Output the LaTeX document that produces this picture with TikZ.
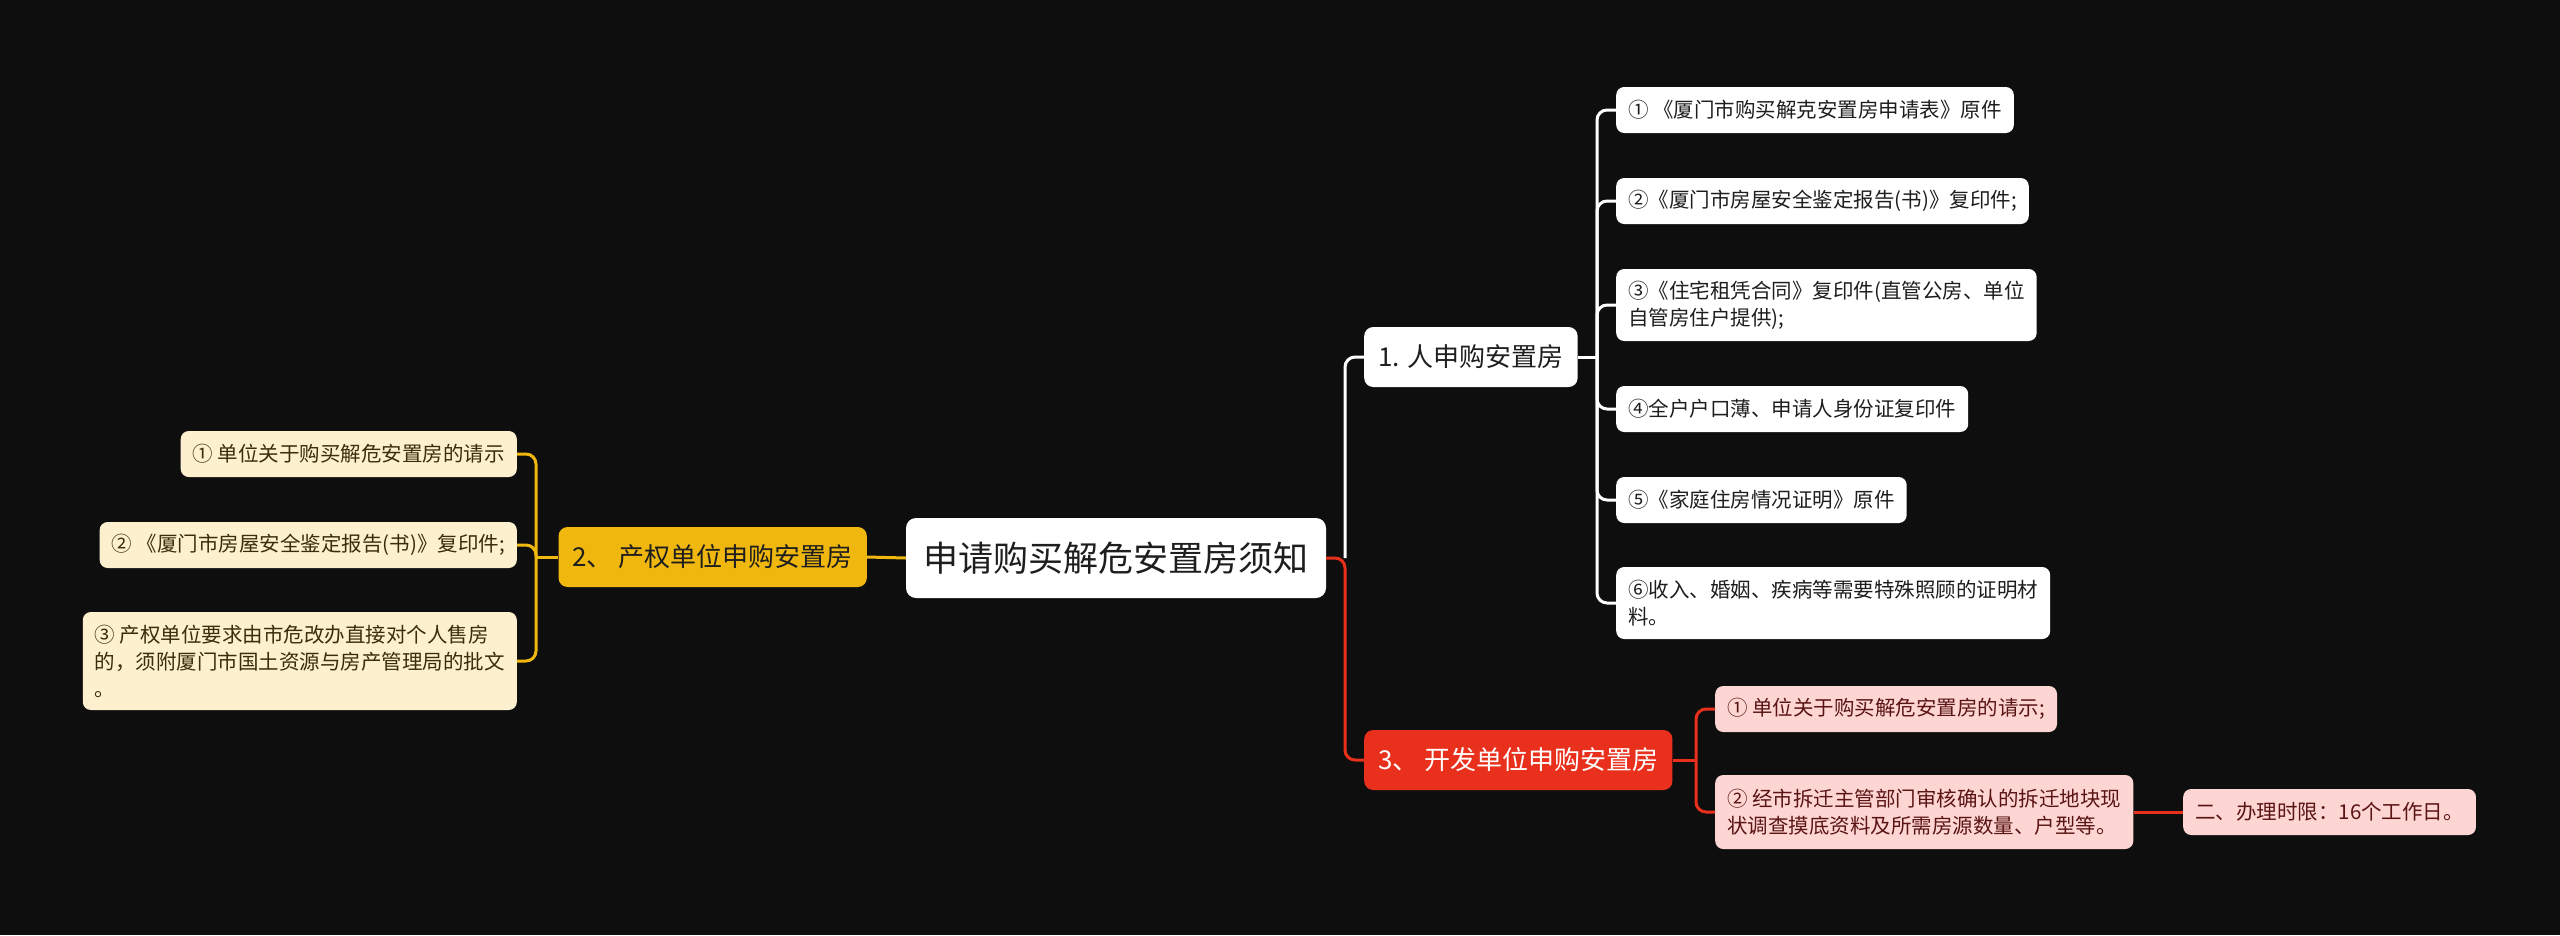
\documentclass[tikz,border=0pt]{standalone}
\usepackage{fontspec}
\setmainfont{Noto Sans CJK SC}
\definecolor{bg}{HTML}{0E0E0E}
\definecolor{ylw}{HTML}{F0B80E}
\definecolor{cream}{HTML}{FDF0CF}
\definecolor{creamtxt}{HTML}{3A2D0A}
\definecolor{rd}{HTML}{E8301C}
\definecolor{pink}{HTML}{FDD6D3}
\definecolor{pinktxt}{HTML}{5A1414}
\definecolor{wtxt}{HTML}{1E1E1E}
\begin{document}
\begin{tikzpicture}[x=1pt,y=-1pt,
  base/.style={rounded corners=8pt, inner xsep=12pt, inner ysep=0pt, align=left,
    font=\fontsize{20.5}{27}\selectfont, minimum height=46pt},
  wleaf/.style={base, fill=white, text=wtxt, anchor=west},
  cleaf/.style={base, fill=cream, text=creamtxt, anchor=east},
  pleaf/.style={base, fill=pink, text=pinktxt, anchor=west},
  mainbox/.style={rounded corners=9pt, inner xsep=14pt, inner ysep=0pt,
    font=\fontsize{26}{32}\selectfont, minimum height=60pt},
  conn/.style={line width=3pt, rounded corners=10pt},
]
\useasboundingbox[fill=bg] (0,0) rectangle (2560,935);

% root
\node[rounded corners=10pt, fill=white, text=wtxt, font=\fontsize{35}{42}\selectfont,
  minimum width=420pt, minimum height=80pt, inner sep=0pt] (root) at (1116,558) {申请购买解危安置房须知};

% level 1
\node[mainbox, fill=ylw, text=wtxt, anchor=east] (n2) at (867,557) {2、 产权单位申购安置房};
\node[mainbox, fill=white, text=wtxt, anchor=west] (n1) at (1364,357) {1. 人申购安置房};
\node[mainbox, fill=rd, text=white, anchor=west] (n3) at (1364,760) {3、 开发单位申购安置房};

% white leaves
\node[wleaf] (w1) at (1616,110) {① 《厦门市购买解克安置房申请表》原件};
\node[wleaf] (w2) at (1616,201) {②《厦门市房屋安全鉴定报告(书)》复印件;};
\node[wleaf, minimum height=72pt] (w3) at (1616,305) {③《住宅租凭合同》复印件(直管公房、单位\\自管房住户提供);};
\node[wleaf] (w4) at (1616,409) {④全户户口薄、申请人身份证复印件};
\node[wleaf] (w5) at (1616,500) {⑤《家庭住房情况证明》原件};
\node[wleaf, minimum height=72pt] (w6) at (1616,603) {⑥收入、婚姻、疾病等需要特殊照顾的证明材\\料。};

% cream leaves
\node[cleaf] (l1) at (517,454) {① 单位关于购买解危安置房的请示};
\node[cleaf] (l2) at (517,545) {② 《厦门市房屋安全鉴定报告(书)》复印件;};
\node[cleaf, minimum height=98pt] (l3) at (517,661) {③ 产权单位要求由市危改办直接对个人售房\\的，须附厦门市国土资源与房产管理局的批文\\。};

% pink leaves
\node[pleaf] (r1) at (1715,709) {① 单位关于购买解危安置房的请示;};
\node[pleaf, minimum height=74pt] (r2) at (1715,812) {② 经市拆迁主管部门审核确认的拆迁地块现\\状调查摸底资料及所需房源数量、户型等。};
\node[pleaf] (r3) at (2183,812) {二、办理时限：16个工作日。};

% junction coordinates
\coordinate (tr) at (1345,558);
\coordinate (ty) at (536,557);
\coordinate (tw) at (1597,357);
\coordinate (tp) at (1696,760);

% connectors
\draw[conn, ylw] (root.west) -- (n2.east);
\draw[conn, white] (tr) |- (n1.west);
\draw[conn, rd] (root.east) -- (tr) |- (n3.west);

\draw[conn, ylw] (n2.west) -- (ty);
\foreach \c in {l1,l2,l3} \draw[conn, ylw] (ty) |- (\c.east);

\draw[conn, white] (n1.east) -- (tw);
\foreach \c in {w1,w2,w3,w4,w5,w6} \draw[conn, white] (tw) |- (\c.west);

\draw[conn, rd] (n3.east) -- (tp);
\foreach \c in {r1,r2} \draw[conn, rd] (tp) |- (\c.west);
\draw[conn, rd] (r2.east) -- (r3.west);
\end{tikzpicture}
\end{document}
